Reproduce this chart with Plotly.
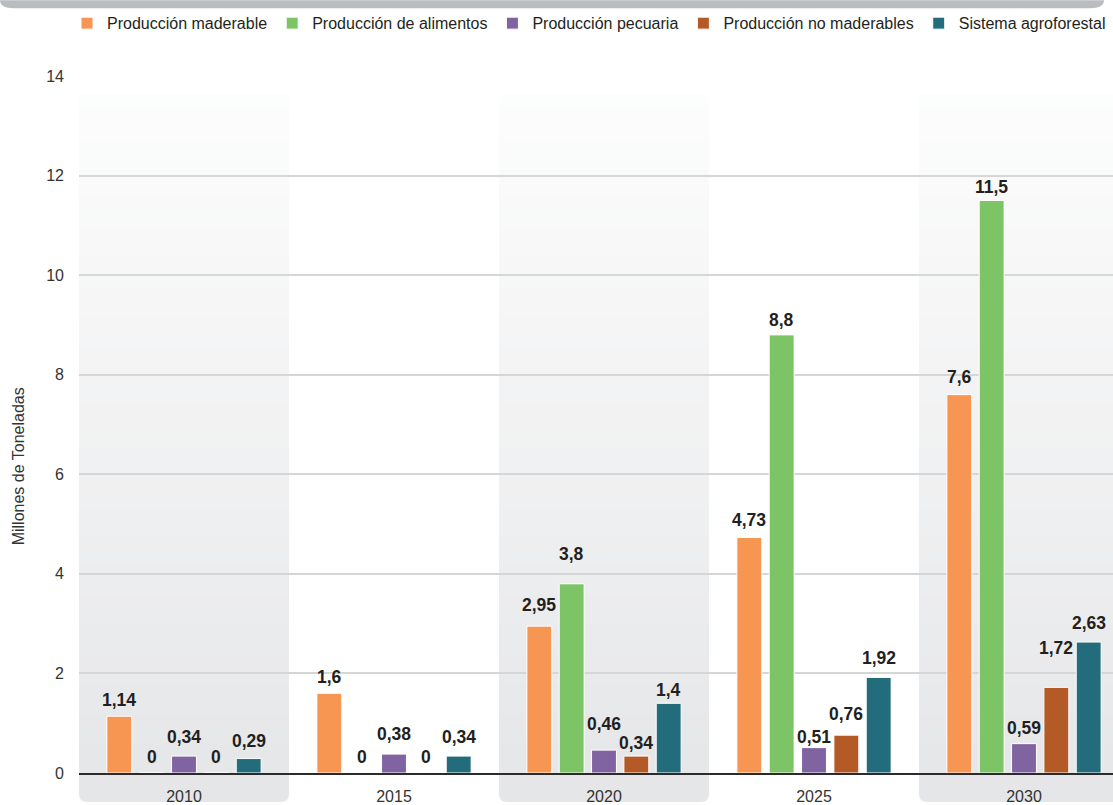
import plotly.graph_objects as go

years = ["2010", "2015", "2020", "2025", "2030"]
series_names = ["Producción maderable", "Producción de alimentos", "Producción pecuaria",
                "Producción no maderables", "Sistema agroforestal"]
maderable = [1.14, 1.6, 2.95, 4.73, 7.6]
alimentos = [0, 0, 3.8, 8.8, 11.5]
pecuaria = [0.34, 0.38, 0.46, 0.51, 0.59]
no_maderables = [0, 0, 0.34, 0.76, 1.72]
agroforestal = [0.29, 0.34, 1.4, 1.92, 2.63]
series_values = [maderable, alimentos, pecuaria, no_maderables, agroforestal]
colors = ["#f79552", "#7cc466", "#8064a2", "#b35a27", "#226c7c"]
y_ticks = [0, 2, 4, 6, 8, 10, 12, 14]

# style: how far (px) each value label's centre sits above its bar top
label_lift = [
    [16, 16, 21, 18, 18],
    [16, 16, 30, 15, 13],
    [19, 20, 26, 11, 16],
    [16, 16, 13, 21, 39],
    [18, 19, 13, 19, 19],
]

W, H = 1113, 805
L, R, T, B = 79, 0, 76, 29
PW, PH = W - L - R, H - T - B
XMAX = 4.4238  # right edge of visible category range (last group is clipped)
BARGAP, GROUPGAP = 0.23, 0.23


def px2x(px):
    return (px - L) / PW


def py2y(py):
    return (H - B - py) / PH


def fmt(v):
    return ("%g" % v).replace(".", ",")


fig = go.Figure()
for name, vals, col in zip(series_names, series_values, colors):
    fig.add_trace(go.Bar(x=years, y=vals, name=name,
                         marker=dict(color=col, line=dict(color="white", width=1)),
                         hoverinfo="skip"))

span = XMAX + 0.5
nser = len(series_names)
slot = (1 - BARGAP) / nser  # slot width in category units
annotations = []
for j, vals in enumerate(series_values):
    for i, v in enumerate(vals):
        annotations.append(dict(
            x=i + (j - (nser - 1) / 2) * slot, y=v, xref="x", yref="y",
            text="<b>" + fmt(v) + "</b>",
            showarrow=False, xanchor="center", yanchor="middle",
            yshift=label_lift[j][i],
            font=dict(family="Liberation Sans, Arial", size=17.5, color="#231f20")))

annotations.append(dict(text="Millones de Toneladas", xref="paper", yref="paper",
                        x=px2x(18), y=py2y(468), xanchor="center", yanchor="middle",
                        textangle=-90, showarrow=False,
                        font=dict(size=16, color="#333333")))

shapes = []
# alternating gradient panels (2010, 2020, 2030)
top_y, bot_y = py2y(95), py2y(H)
bot_c, top_c = (229, 230, 232), (253, 253, 253)
N = 48
rx, ry = 8 / PW, 8 / PH
for i in range(0, len(years), 2):
    x0 = i / span
    x1 = (i + 1) / span
    path = (f"M {x0},{top_y} L {x0},{bot_y + ry} Q {x0},{bot_y} {x0 + rx},{bot_y} "
            f"L {x1 - rx},{bot_y} Q {x1},{bot_y} {x1},{bot_y + ry} L {x1},{top_y} Z")
    shapes.append(dict(type="path", path=path, xref="paper", yref="paper",
                       fillcolor="rgb(%d,%d,%d)" % bot_c, line=dict(width=0), layer="below"))
    for k in range(1, N):
        t = k / N
        yb = bot_y + (top_y - bot_y) * t
        c = tuple(round(bot_c[m] + (top_c[m] - bot_c[m]) * t) for m in range(3))
        shapes.append(dict(type="rect", xref="paper", yref="paper", x0=x0, x1=x1,
                           y0=yb, y1=top_y, fillcolor="rgb(%d,%d,%d)" % c,
                           line=dict(width=0), layer="below"))

# grey header bar with rounded bottom corners
hx0, hx1 = px2x(0), px2x(1104)
hyt, hyb = py2y(0), py2y(8)
hrx = 14 / PW
shapes.append(dict(type="path", xref="paper", yref="paper",
                   path=(f"M {hx0},{hyt} L {hx1},{hyt} Q {hx1},{hyb} {hx1 - hrx},{hyb} "
                         f"L {hx0 + hrx},{hyb} Q {hx0},{hyb} {hx0},{hyt} Z"),
                   fillcolor="#bbbcc0", line=dict(width=0), layer="below"))

fig.update_layout(
    width=W, height=H,
    margin=dict(l=L, r=R, t=T, b=B, pad=0),
    paper_bgcolor="white", plot_bgcolor="rgba(0,0,0,0)",
    barmode="group", bargap=BARGAP, bargroupgap=GROUPGAP,
    font=dict(family="Liberation Sans, Arial", color="#333333"),
    shapes=shapes,
    annotations=annotations,
    showlegend=True,
    legend=dict(orientation="h", x=px2x(67), xanchor="left", y=py2y(23), yanchor="middle",
                font=dict(size=16, color="#231f20"), bgcolor="rgba(0,0,0,0)",
                traceorder="normal", itemclick=False),
    xaxis=dict(type="category", range=[-0.5, XMAX], showline=True, linecolor="#2b2b2b",
               linewidth=1.5, showgrid=False, ticks="", zeroline=False,
               tickfont=dict(size=16, color="#333333"), ticklabelstandoff=8),
    yaxis=dict(range=[0, 14], tickvals=y_ticks, showgrid=True, gridcolor="#d6d6d6",
               gridwidth=2, zeroline=False, showline=False, ticks="",
               tickfont=dict(size=16, color="#333333"), ticklabelstandoff=14),
)

fig.write_html("out.html")
